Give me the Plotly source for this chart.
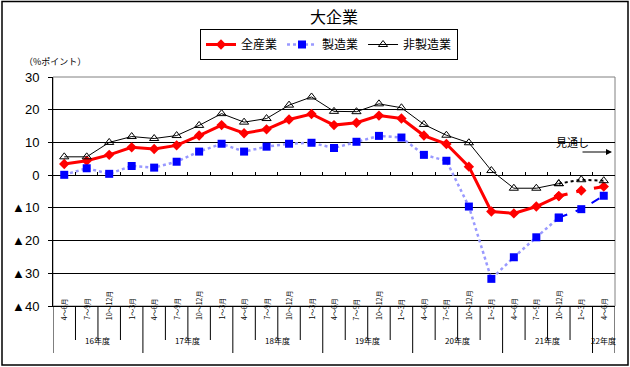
import plotly.graph_objects as go

quarters = ["4～6月", "7～9月", "10～12月", "1～3月"] * 6 + ["4～6月"]
years = ["16年度", "17年度", "18年度", "19年度", "20年度", "21年度", "22年度"]
year_sizes = [4, 4, 4, 4, 4, 4, 1]

all_ind = [3.4, 4.4, 6.2, 8.5, 8.0, 9.1, 12.1, 15.3, 12.8, 14.0, 17.0, 18.7, 15.3,
           16.0, 18.2, 17.3, 12.1, 9.5, 2.6, -11.1, -11.7, -9.6, -6.4, -4.7, -3.5]
manuf = [0.1, 2.1, 0.4, 2.8, 2.3, 4.1, 7.2, 9.6, 7.2, 8.7, 9.6, 9.9, 8.3,
         10.2, 12.0, 11.5, 6.2, 4.4, -9.6, -31.7, -25.1, -19.0, -13.0, -10.4, -6.3]
nonmanuf = [5.6, 5.6, 10.0, 11.8, 11.2, 12.1, 15.2, 18.8, 16.2, 17.3, 21.4, 23.9, 19.5,
            19.4, 21.8, 20.6, 15.5, 12.2, 9.9, 1.4, -4.0, -4.0, -2.6, -1.4, -1.7]
n_actual = 23  # last two points are the outlook (見通し)

ytick_vals = [30, 20, 10, 0, -10, -20, -30, -40]
ytick_text = ["30", "20", "10", "0", "▲10", "▲20", "▲30", "▲40"]

xs = list(range(len(quarters)))
xa, xf = xs[:n_actual], xs[n_actual - 1:]

CJK = "Noto Sans CJK JP"
fig = go.Figure()

# actual series
fig.add_trace(go.Scatter(x=xa, y=all_ind[:n_actual], name="全産業", mode="lines+markers",
                         line=dict(color="#FF0000", width=3),
                         marker=dict(symbol="diamond", size=8, color="#FF0000")))
fig.add_trace(go.Scatter(x=xa, y=manuf[:n_actual], name="製造業", mode="lines+markers",
                         line=dict(color="#9999FF", width=2.5, dash="dot"),
                         marker=dict(symbol="square", size=8, color="#0000FF")))
fig.add_trace(go.Scatter(x=xa, y=nonmanuf[:n_actual], name="非製造業", mode="lines+markers",
                         line=dict(color="#000000", width=1),
                         marker=dict(symbol="triangle-up-open", size=8, color="#000000",
                                     line=dict(width=1))))
# outlook series
fig.add_trace(go.Scatter(x=xf, y=all_ind[n_actual - 1:], mode="lines+markers", showlegend=False,
                         line=dict(color="#FF0000", width=3, dash="dash"),
                         marker=dict(symbol="diamond", size=8, color="#FF0000")))
fig.add_trace(go.Scatter(x=xf, y=manuf[n_actual - 1:], mode="lines+markers", showlegend=False,
                         line=dict(color="#0000FF", width=2, dash="dash"),
                         marker=dict(symbol="square", size=8, color="#0000FF")))
fig.add_trace(go.Scatter(x=xf, y=nonmanuf[n_actual - 1:], mode="lines+markers", showlegend=False,
                         line=dict(color="#000000", width=2, dash="dot"),
                         marker=dict(symbol="triangle-up-open", size=8, color="#000000",
                                     line=dict(width=1))))

L, R, T, B = 53, 15, 77, 61
W, H = 630, 367
pw, ph = W - L - R, H - T - B


def py(pix):
    return (H - B - pix) / ph


def px(pix):
    return (pix - L) / pw


shapes = []
annotations = []
# outer frame
shapes.append(dict(type="rect", xref="paper", yref="paper", x0=px(2), x1=px(628), y0=py(365), y1=py(1.5),
                   line=dict(color="black", width=1.5), layer="below"))
# plot frame (grey top/right)
shapes.append(dict(type="rect", xref="paper", yref="paper", x0=0, x1=1, y0=0, y1=1,
                   line=dict(color="#808080", width=1), layer="below"))

# category dividers and labels
year_bounds = set()
acc = 0
for s in year_sizes:
    year_bounds.add(acc)
    acc += s
year_bounds.add(acc)
for i in range(len(quarters) + 1):
    bottom = 353 if i in year_bounds else 340
    shapes.append(dict(type="line", xref="x", yref="paper", x0=i - 0.5, x1=i - 0.5,
                       y0=0, y1=py(bottom), line=dict(color="black", width=1)))
for i, q in enumerate(quarters):
    annotations.append(dict(x=i, y=py(322), xref="x", yref="paper", text=q, showarrow=False,
                            textangle=-90, font=dict(family=CJK, size=7, color="black")))
acc = 0
for yname, s in zip(years, year_sizes):
    annotations.append(dict(x=acc + (s - 1) / 2, y=py(348), xref="x", yref="paper", text=yname,
                            showarrow=False, font=dict(family=CJK, size=8, color="black")))
    acc += s

annotations.append(dict(x=px(22), y=py(53), xref="paper", yref="paper", text="（%ポイント）",
                        showarrow=False, xanchor="left", font=dict(family=CJK, size=9, color="black")))
annotations.append(dict(x=px(591), y=py(132), xref="paper", yref="paper", text="見通し",
                        showarrow=False, font=dict(family=CJK, size=11, color="black")))
annotations.append(dict(x=px(612), y=py(152), ax=-31, ay=0, xref="paper", yref="paper",
                        axref="pixel", ayref="pixel", text="", showarrow=True, arrowhead=2,
                        arrowsize=1, arrowwidth=1.2, arrowcolor="black"))

fig.update_layout(
    width=W, height=H,
    margin=dict(l=L, r=R, t=T, b=B, autoexpand=False),
    paper_bgcolor="white", plot_bgcolor="white",
    title=dict(text="大企業", x=0.5, xref="paper", xanchor="center", y=1 - 17 / H, yanchor="middle",
               font=dict(family=CJK, size=16, color="black")),
    legend=dict(orientation="h", xref="container", yref="container", x=329 / W, xanchor="center",
                y=1 - 29 / H, yanchor="top", bordercolor="black", borderwidth=1,
                font=dict(family=CJK, size=12, color="black"),
                tracegroupgap=0),
    xaxis=dict(range=[-0.5, len(quarters) - 0.5], showticklabels=False, showgrid=False,
               zeroline=False, showline=True, linecolor="black", linewidth=1, ticks=""),
    xaxis2=dict(overlaying="x", anchor="free", position=40 / 70, range=[-0.5, len(quarters) - 0.5],
                tickmode="array", tickvals=[i - 0.5 for i in range(len(quarters) + 1)],
                ticks="inside", ticklen=3, tickcolor="black", showticklabels=False,
                showgrid=False, zeroline=False, showline=False),
    yaxis=dict(range=[-40, 30], tickmode="array", tickvals=ytick_vals, ticktext=ytick_text,
               showgrid=True, gridcolor="black", gridwidth=1, zeroline=False,
               showline=True, linecolor="black", linewidth=1, ticks="outside", ticklen=4,
               tickcolor="black", ticklabelstandoff=6,
               tickfont=dict(family="Liberation Sans", size=13, color="black")),
    shapes=shapes, annotations=annotations,
    showlegend=True,
)
fig.add_trace(go.Scatter(x=[None], y=[None], xaxis="x2", showlegend=False))

fig.write_html("out.html", config={"displayModeBar": False},
               post_script="document.body.style.margin='0';document.body.style.overflow='hidden';")
